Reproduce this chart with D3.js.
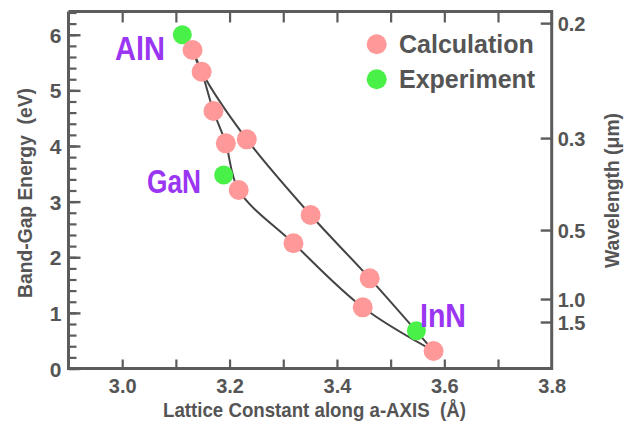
<!DOCTYPE html>
<html>
<head>
<meta charset="utf-8">
<script src="https://cdn.jsdelivr.net/npm/d3@7"></script>
<style>
  body { margin: 0; background: #fff; }
  text { font-family: "Liberation Sans", Arial, sans-serif; font-weight: bold; white-space: pre; }
</style>
</head>
<body>
<script>
// calculated band gaps (pink)
const calcX = [3.131, 3.148, 3.170, 3.193, 3.232, 3.217, 3.351, 3.319, 3.461, 3.448, 3.580];
const calcY = [5.725, 5.335, 4.629, 4.048, 4.120, 3.209, 2.759, 2.251, 1.621, 1.100, 0.315];

// experiment (green)
const expNames = ["AlN", "GaN", "InN"];
const expX = [3.112, 3.189, 3.548];
const expY = [6.0, 3.48, 0.68];

// the two alloy curves, as indices into the calc points
const curveLower = [0, 1, 2, 3, 5, 7, 9, 10];
const curveUpper = [0, 1, 4, 6, 8, 10];

const xTicks = [3.0, 3.2, 3.4, 3.6, 3.8];
const yTicks = [0, 1, 2, 3, 4, 5, 6];
const waveTicks = [0.2, 0.3, 0.5, 1.0, 1.5];

const width = 632, height = 424;
const mLeft = 68.5, mRight = 551.7, mTop = 12.5, mBottom = 368.5;
const axisColor = "#5c5c5c";
const textColor = "#555";

const svg = d3.select("body").append("svg")
    .attr("width", width)
    .attr("height", height);

const x = d3.scaleLinear().domain([2.9, 3.8]).range([mLeft, mRight]);
const y = d3.scaleLinear().domain([0, 6.4]).range([mBottom, mTop]);
// wavelength (um) -> energy (eV) -> pixel
const yWave = w => y(1.24 / w);

// minor ticks
const xMinor = d3.range(30, 38).map(d => d / 10);
const yMinor = d3.range(0, 33).map(d => d / 5);

// bottom axis, ticks pointing inward
svg.append("g")
    .attr("transform", `translate(0,${mBottom})`)
    .call(d3.axisBottom(x).tickValues(xMinor).tickSize(-9).tickFormat(""))
    .call(g => g.select(".domain").remove())
    .call(g => g.selectAll(".tick line").attr("stroke", axisColor).attr("stroke-width", 2.2));

svg.append("g")
    .attr("transform", `translate(0,${mBottom})`)
    .call(d3.axisBottom(x).tickValues(xTicks).tickSize(0).tickPadding(10).tickFormat(d3.format(".1f")))
    .call(g => g.select(".domain").remove())
    .call(g => g.selectAll("text").attr("fill", textColor).attr("font-size", 20)
        .attr("font-family", "Liberation Sans, Arial, sans-serif").attr("font-weight", "bold"));

// top ticks
svg.append("g")
    .attr("transform", `translate(0,${mTop})`)
    .call(d3.axisTop(x).tickValues(xMinor).tickSize(-10).tickFormat(""))
    .call(g => g.select(".domain").remove())
    .call(g => g.selectAll(".tick line").attr("stroke", axisColor).attr("stroke-width", 2.2));

// left axis: minor + major
svg.append("g")
    .attr("transform", `translate(${mLeft},0)`)
    .call(d3.axisLeft(y).tickValues(yMinor).tickSize(-8).tickFormat(""))
    .call(g => g.select(".domain").remove())
    .call(g => g.selectAll(".tick line").attr("stroke", axisColor).attr("stroke-width", 2.2));

svg.append("g")
    .attr("transform", `translate(${mLeft},0)`)
    .call(d3.axisLeft(y).tickValues(yTicks).tickSize(-12).tickPadding(8).tickFormat(d3.format("d")))
    .call(g => g.select(".domain").remove())
    .call(g => g.selectAll(".tick line").attr("stroke", axisColor).attr("stroke-width", 2.4))
    .call(g => g.selectAll("text").attr("fill", textColor).attr("font-size", 21)
        .attr("font-family", "Liberation Sans, Arial, sans-serif").attr("font-weight", "bold")
        .attr("x", -7).attr("dy", "0.36em"));

// right axis: wavelength
const rightAxis = svg.append("g");
rightAxis.selectAll("line")
    .data(waveTicks)
    .enter().append("line")
    .attr("x1", mRight - 11).attr("x2", mRight)
    .attr("y1", d => yWave(d)).attr("y2", d => yWave(d))
    .attr("stroke", axisColor).attr("stroke-width", 2.4);
rightAxis.selectAll("text")
    .data(waveTicks)
    .enter().append("text")
    .attr("x", mRight + 6)
    .attr("y", d => yWave(d))
    .attr("dy", "0.36em")
    .attr("fill", textColor)
    .attr("font-size", 20)
    .text(d => d3.format(".1f")(d));

// frame
svg.append("path")
    .attr("d", `M${mLeft},${mTop - 1}V${mBottom}H${mRight}V${mTop - 1}H${mLeft}`)
    .attr("fill", "none")
    .attr("stroke", axisColor)
    .attr("stroke-width", 3);

// curves
const line = d3.line()
    .x(i => x(calcX[i]))
    .y(i => y(calcY[i]))
    .curve(d3.curveCatmullRom.alpha(0.5));

svg.selectAll(".curve")
    .data([curveLower, curveUpper])
    .enter().append("path")
    .attr("class", "curve")
    .attr("d", line)
    .attr("fill", "none")
    .attr("stroke", "#444")
    .attr("stroke-width", 2);

// experiment points
svg.selectAll(".exp")
    .data(expX)
    .enter().append("circle")
    .attr("class", "exp")
    .attr("cx", d => x(d))
    .attr("cy", (d, i) => y(expY[i]))
    .attr("r", 9.5)
    .attr("fill", "#48f048");

// calculation points
svg.selectAll(".calc")
    .data(calcX)
    .enter().append("circle")
    .attr("class", "calc")
    .attr("cx", d => x(d))
    .attr("cy", (d, i) => y(calcY[i]))
    .attr("r", 10)
    .attr("fill", "#ff9898");

// compound labels
const labelPos = [[115, 60, 50], [147, 193, 54], [420, 327, 46]];
svg.selectAll(".lab")
    .data(expNames)
    .enter().append("text")
    .attr("class", "lab")
    .attr("x", (d, i) => labelPos[i][0])
    .attr("y", (d, i) => labelPos[i][1])
    .attr("textLength", (d, i) => labelPos[i][2])
    .attr("lengthAdjust", "spacingAndGlyphs")
    .attr("font-size", 34)
    .attr("fill", "#9a35f2")
    .text(d => d);

// legend
const legend = svg.append("g");
const legendItems = [["Calculation", "#ff9898"], ["Experiment", "#48f048"]];
legendItems.forEach((item, i) => {
    legend.append("circle")
        .attr("cx", 376.7).attr("cy", 44.3 + i * 35)
        .attr("r", 10).attr("fill", item[1]);
    legend.append("text")
        .attr("x", 399).attr("y", 53 + i * 35)
        .attr("font-size", 25)
        .attr("fill", textColor)
        .text(item[0]);
});

// axis titles
svg.append("text")
    .attr("x", 163)
    .attr("y", 417)
    .attr("textLength", 303)
    .attr("lengthAdjust", "spacingAndGlyphs")
    .attr("font-size", 21)
    .attr("fill", textColor)
    .text("Lattice Constant along a-AXIS  (Å)");

svg.append("text")
    .attr("transform", "translate(32,298) rotate(-90)")
    .attr("textLength", 210)
    .attr("lengthAdjust", "spacingAndGlyphs")
    .attr("font-size", 21)
    .attr("fill", textColor)
    .text("Band-Gap Energy  (eV)");

svg.append("text")
    .attr("transform", "translate(619,268) rotate(-90)")
    .attr("textLength", 155)
    .attr("lengthAdjust", "spacingAndGlyphs")
    .attr("font-size", 20)
    .attr("fill", textColor)
    .text("Wavelength (μm)");
</script>
</body>
</html>
